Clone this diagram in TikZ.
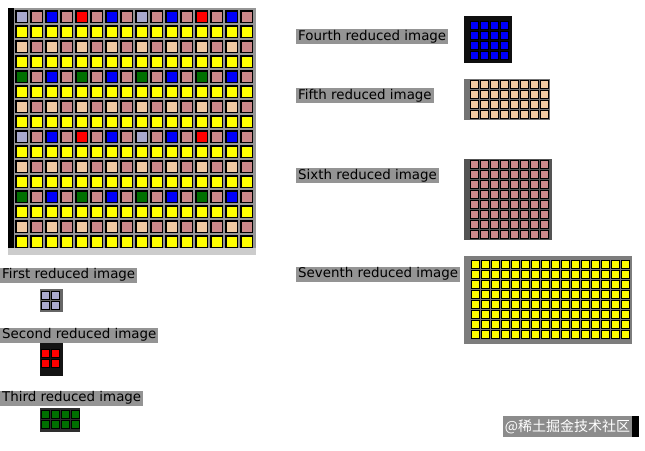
\documentclass[tikz,border=0pt]{standalone}
\usepackage{fontspec}
\setmainfont{DejaVu Sans}
\newfontfamily\cjkfont{Noto Sans CJK SC}
\usepackage{tikz}
\usepackage{xcolor}

\definecolor{pa}{RGB}{170,170,206}
\definecolor{pb}{RGB}{255,0,0}
\definecolor{pc}{RGB}{0,112,0}
\definecolor{pd}{RGB}{0,0,250}
\definecolor{pe}{RGB}{240,202,162}
\definecolor{pf}{RGB}{204,136,138}
\definecolor{pg}{RGB}{255,255,0}
\definecolor{gapgray}{RGB}{150,150,150}

\begin{document}
\begin{tikzpicture}[
  x=1pt, y=-1pt,
  cell/.style={draw=black, line width=1.2pt},
  smallcell/.style={draw=black, line width=1pt},
  caption/.style={anchor=west, fill=black!42, inner xsep=2pt, inner ysep=1pt, text height=10pt, text depth=3pt, font=\fontsize{13.4}{15}\selectfont},
  wmark/.style={fill=black!45, text=white, inner sep=0pt, minimum width=129pt, minimum height=21pt, font=\cjkfont\fontsize{14}{16}\selectfont}
]
  \useasboundingbox (0,0) rectangle (645,450);

  \fill[gapgray] (8,8) rectangle (256,248);
  \fill[gray!40] (8,248) rectangle (256,255);
  \fill[black] (8,8) rectangle (14,248);
  \foreach \pattern [count=\r from 0] in {
      {pa,pf,pd,pf,pb,pf,pd,pf},{pg,pg,pg,pg,pg,pg,pg,pg},
      {pe,pf,pe,pf,pe,pf,pe,pf},{pg,pg,pg,pg,pg,pg,pg,pg},
      {pc,pf,pd,pf,pc,pf,pd,pf},{pg,pg,pg,pg,pg,pg,pg,pg},
      {pe,pf,pe,pf,pe,pf,pe,pf},{pg,pg,pg,pg,pg,pg,pg,pg}}
    \foreach \clr [count=\c from 0] in \pattern
      \foreach \k in {0,1}
        \foreach \l in {0,1}
          \draw[cell, fill=\clr] (16+15*\c+120*\k, 11+15*\r+120*\l) rectangle ++(11.5,11.5);

  \foreach \cx/\cy/\nc/\nr/\clr/\xa/\ya/\xb/\yb/\bg in {
      41/291/2/2/pa/40/289/63/312/black!60,
      41/349/2/2/pb/40/343/63/376/black!92,
      41/410/4/2/pc/40/408/80/432/black!82,
      470/21/4/4/pd/464/16/512/63/black!94,
      470.5/80.5/8/4/pe/464/79/550/120/black!55,
      470.5/160.5/8/8/pf/464/159/552/240/black!67,
      471/260/16/8/pg/464/256/632/344/black!51}{
    \fill[\bg] (\xa,\ya) rectangle (\xb,\yb);
    \foreach \i in {1,...,\nc}
      \foreach \j in {1,...,\nr}
        \draw[smallcell, fill=\clr] (\cx+10*\i-10, \cy+10*\j-10) rectangle ++(8,8);
  }

  \node[caption] (lblfirst) at (0,275) {First reduced image};
  \node[caption] (lblsecond) at (0,335) {Second reduced image};
  \node[caption] (lblthird) at (0,398) {Third reduced image};
  \node[caption] (lblfourth) at (296,36.5) {Fourth reduced image};
  \node[caption] (lblfifth) at (296,95.5) {Fifth reduced image};
  \node[caption] (lblsixth) at (296,175.5) {Sixth reduced image};
  \node[caption] (lblseventh) at (296,274) {Seventh reduced image};

  \node[wmark] (watermark) at (567.5,426.5) {@稀土掘金技术社区};
  \fill[black] (632,416) rectangle (639,437);
\end{tikzpicture}
\end{document}
